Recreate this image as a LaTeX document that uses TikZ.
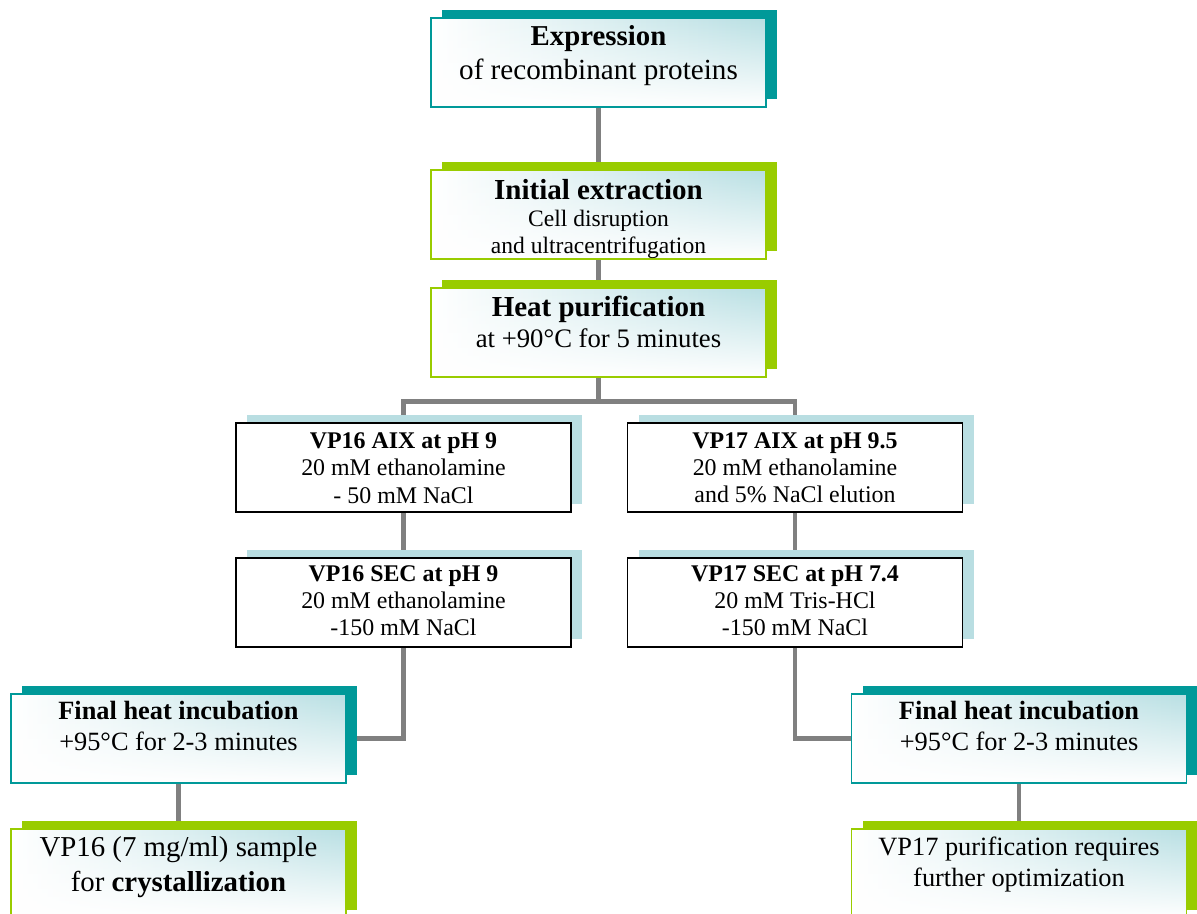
\documentclass[tikz,border=0pt]{standalone}
\usepackage{fontspec}
\setmainfont{Liberation Serif}
\usepackage{tikz}
\usetikzlibrary{positioning,shadows,backgrounds,fadings}

\definecolor{tealc}{RGB}{0,153,153}
\definecolor{greenc}{RGB}{153,204,0}
\definecolor{paleblue}{RGB}{185,222,226}
\definecolor{shadeblue}{RGB}{184,223,227}
\definecolor{linkgray}{RGB}{128,128,128}

\tikzset{
  stage/.style={rectangle, minimum width=6.7cm, minimum height=1.78cm, line width=1.1pt,
    left color=white, right color=shadeblue,
    path picture={\fill[white, path fading=north] (path picture bounding box.south west)
      rectangle (path picture bounding box.north east);}},
  tealbox/.style={stage, draw=tealc,
    drop shadow={shadow xshift=0.22cm, shadow yshift=0.16cm, opacity=1, fill=tealc}},
  greenbox/.style={stage, draw=greenc,
    drop shadow={shadow xshift=0.22cm, shadow yshift=0.16cm, opacity=1, fill=greenc}},
  runbox/.style={rectangle, minimum width=6.7cm, minimum height=1.78cm, line width=1.1pt,
    draw=black, fill=white,
    drop shadow={shadow xshift=0.22cm, shadow yshift=0.16cm, opacity=1, fill=paleblue}},
  txt/.style={inner sep=0pt, align=center},
  link/.style={draw=linkgray, line width=2.8pt},
}

\begin{document}
\begin{tikzpicture}[node distance=0.88cm]
\useasboundingbox (-11.97,1.25) rectangle (11.97,-17.01);
% boxes
\node[tealbox] (expr) at (0,0) {};
\node[greenbox, below=1.23cm of expr] (init) {};
\node[greenbox, below=0.54cm of init] (heat) {};
\node[runbox, below=of heat, xshift=-3.9cm] (aix16) {};
\node[runbox, below=of heat, xshift=3.93cm] (aix17) {};
\node[runbox, below=of aix16] (sec16) {};
\node[runbox, below=of aix17] (sec17) {};
\node[tealbox, below=0.9cm of sec16, xshift=-4.5cm] (fin16) {};
\node[tealbox, below=0.9cm of sec17, xshift=4.48cm] (fin17) {};
\node[greenbox, below=of fin16] (res16) {};
\node[greenbox, below=of fin17] (res17) {};
% texts
\node[txt, font=\fontsize{16.6}{19.3}\selectfont] (exprtxt) at ([yshift=0.13cm]expr.center)
  {{\fontsize{16.4}{19}\selectfont\bfseries Expression}\\of recombinant proteins};
\node[txt, font=\fontsize{13.4}{15.5}\selectfont] (inittxt) at ([yshift=-0.08cm]init.center)
  {{\fontsize{16.5}{19}\selectfont\bfseries Initial extraction}\\Cell disruption\\and ultracentrifugation};
\node[txt, font=\fontsize{15.2}{17.6}\selectfont] (heattxt) at ([yshift=0.21cm]heat.center)
  {{\fontsize{16.5}{19}\selectfont\bfseries Heat purification}\\at +90°C for 5 minutes};
\node[txt, font=\fontsize{13.6}{15.6}\selectfont] (aix16txt) at (aix16.center)
  {\textbf{VP16 AIX at pH 9}\\20 mM ethanolamine\\- 50 mM NaCl};
\node[txt, font=\fontsize{13.6}{15.6}\selectfont] (aix17txt) at (aix17.center)
  {\textbf{VP17 AIX at pH 9.5}\\20 mM ethanolamine\\and 5\% NaCl elution};
\node[txt, font=\fontsize{13.6}{15.6}\selectfont] (sec16txt) at ([yshift=0.04cm]sec16.center)
  {\textbf{VP16 SEC at pH 9}\\20 mM ethanolamine\\-150 mM NaCl};
\node[txt, font=\fontsize{13.6}{15.6}\selectfont] (sec17txt) at ([yshift=0.04cm]sec17.center)
  {\textbf{VP17 SEC at pH 7.4}\\20 mM Tris-HCl\\-150 mM NaCl};
\node[txt, font=\fontsize{15}{17.6}\selectfont] (fin16txt) at ([yshift=0.25cm]fin16.center)
  {\textbf{Final heat incubation}\\+95°C for 2-3 minutes};
\node[txt, font=\fontsize{15}{17.6}\selectfont] (fin17txt) at ([yshift=0.25cm]fin17.center)
  {\textbf{Final heat incubation}\\+95°C for 2-3 minutes};
\node[txt, font=\fontsize{16.4}{19.8}\selectfont] (res16txt) at ([yshift=0.13cm]res16.center)
  {VP16 (7 mg/ml) sample\\for \textbf{crystallization}};
\node[txt, font=\fontsize{15}{17.6}\selectfont] (res17txt) at ([yshift=0.19cm]res17.center)
  {VP17 purification requires\\further optimization};
% connectors
\begin{scope}[on background layer]
\draw[link] (expr) -- (init);
\draw[link] (init) -- (heat);
\draw[link] (heat.south) -- ++(0,-0.46) -| (aix16.north);
\draw[link] (heat.south) -- ++(0,-0.46) -| (aix17.north);
\draw[link] (aix16) -- (sec16);
\draw[link] (aix17) -- (sec17);
\draw[link] (sec16.south) |- (fin16.east);
\draw[link] (sec17.south) |- (fin17.west);
\draw[link] (fin16) -- (res16);
\draw[link] (fin17) -- (res17);
\end{scope}
\end{tikzpicture}
\end{document}
